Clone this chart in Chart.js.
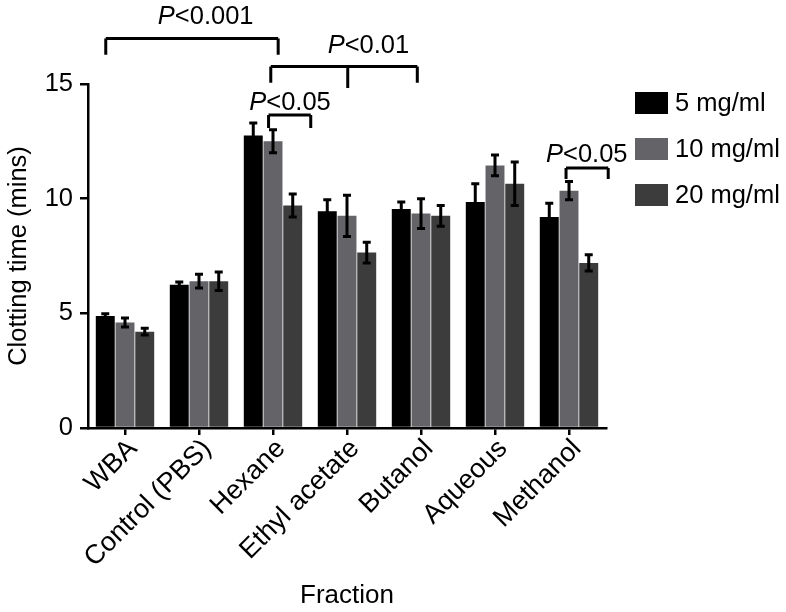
<!DOCTYPE html>
<html>
<head>
<meta charset="utf-8">
<script src="https://cdn.jsdelivr.net/npm/chart.js@4.4.1/dist/chart.umd.min.js"></script>
<style>
  html, body { margin: 0; padding: 0; background: #fff; }
  #wrap { width: 786px; height: 612px; position: relative; }
</style>
</head>
<body>
<div id="wrap"><canvas id="clotChart"></canvas></div>
<script>
const fractions = ['WBA', 'Control (PBS)', 'Hexane', 'Ethyl acetate', 'Butanol', 'Aqueous', 'Methanol'];
const seriesNames = ['5 mg/ml', '10 mg/ml', '20 mg/ml'];
const seriesColors = ['#000000', '#646468', '#3c3c3c'];

const mean5 = [4.88, 6.25, 12.75, 9.45, 9.55, 9.85, 9.2];
const mean10 = [4.6, 6.4, 12.5, 9.25, 9.35, 11.45, 10.35];
const mean20 = [4.2, 6.4, 9.7, 7.65, 9.25, 10.65, 7.2];
const err5 = [0.1, 0.12, 0.55, 0.5, 0.3, 0.8, 0.6];
const err10 = [0.2, 0.3, 0.5, 0.9, 0.65, 0.45, 0.4];
const err20 = [0.15, 0.4, 0.5, 0.45, 0.45, 0.95, 0.35];

const yTicks = [0, 5, 10, 15];

// significance brackets: x in category units (0 = WBA), y in mins
const bracketLabels = ['<0.001', '<0.01', '<0.05', '<0.05'];
const bracketLegs = [[-0.26, 2.07], [1.97, 3.01, 3.95], [1.94, 2.51], [5.96, 6.53]];
const bracketLegEnds = [[16.27, 16.27], [15.05, 14.83, 15.05], [13.08, 13.08], [10.86, 10.86]];
const bracketTops = [16.98, 15.76, 13.65, 11.34];
const bracketTextX = [1.09, 3.29, 2.23, 6.24];
const bracketTextY = [17.62, 16.35, 13.87, 11.6];

const means = [mean5, mean10, mean20];
const errs = [err5, err10, err20];

const FONT = '"Liberation Sans", Arial, sans-serif';

const errorBars = {
    id: 'errorBars',
    afterDatasetsDraw(chart) {
        const ctx = chart.ctx;
        const y = chart.scales.y;
        ctx.save();
        ctx.strokeStyle = '#000';
        ctx.lineWidth = 3;
        chart.data.datasets.forEach((ds, i) => {
            const meta = chart.getDatasetMeta(i);
            meta.data.forEach((bar, j) => {
                const v = ds.data[j];
                const e = errs[i][j];
                const top = y.getPixelForValue(v + e);
                const bot = y.getPixelForValue(v - e);
                ctx.beginPath();
                ctx.moveTo(bar.x, top);
                ctx.lineTo(bar.x, bot);
                ctx.moveTo(bar.x - 4, top);
                ctx.lineTo(bar.x + 4, top);
                ctx.moveTo(bar.x - 4, bot);
                ctx.lineTo(bar.x + 4, bot);
                ctx.stroke();
            });
        });
        ctx.restore();
    }
};

const brackets = {
    id: 'brackets',
    afterDraw(chart) {
        const ctx = chart.ctx;
        const xs = chart.scales.x;
        const y = chart.scales.y;
        const x0 = xs.getPixelForValue(0);
        const step = xs.getPixelForValue(1) - x0;
        const px = c => x0 + c * step;
        ctx.save();
        ctx.strokeStyle = '#000';
        ctx.lineWidth = 3;
        bracketLabels.forEach((lab, k) => {
            const legs = bracketLegs[k];
            const top = y.getPixelForValue(bracketTops[k]);
            ctx.beginPath();
            ctx.moveTo(px(legs[0]), top);
            ctx.lineTo(px(legs[legs.length - 1]), top);
            legs.forEach((c, m) => {
                ctx.moveTo(px(c), top);
                ctx.lineTo(px(c), y.getPixelForValue(bracketLegEnds[k][m]));
            });
            ctx.stroke();

            // italic P followed by the rest
            ctx.fillStyle = '#000';
            ctx.textBaseline = 'alphabetic';
            ctx.font = 'italic 25.5px ' + FONT;
            const wP = ctx.measureText('P').width;
            ctx.font = '25.5px ' + FONT;
            const wR = ctx.measureText(lab).width;
            const start = px(bracketTextX[k]) - (wP + wR) / 2;
            const base = y.getPixelForValue(bracketTextY[k]);
            ctx.font = 'italic 25.5px ' + FONT;
            ctx.fillText('P', start, base);
            ctx.font = '25.5px ' + FONT;
            ctx.fillText(lab, start + wP, base);
        });
        ctx.restore();
    }
};

const sideLegend = {
    id: 'sideLegend',
    afterDraw(chart) {
        const ctx = chart.ctx;
        ctx.save();
        ctx.font = '25.5px ' + FONT;
        ctx.textBaseline = 'middle';
        seriesNames.forEach((name, i) => {
            const cy = 103 + i * 46;
            ctx.fillStyle = seriesColors[i];
            ctx.fillRect(635, cy - 11, 33, 22);
            ctx.fillStyle = '#000';
            ctx.fillText(name, 675, cy + 1);
        });
        ctx.restore();
    }
};

const ctx = document.getElementById('clotChart').getContext('2d');
new Chart(ctx, {
    type: 'bar',
    data: {
        labels: fractions,
        datasets: seriesNames.map((name, i) => ({
            label: name,
            data: means[i],
            backgroundColor: seriesColors[i],
            borderWidth: 0,
            categoryPercentage: 0.8,
            barPercentage: 0.96
        }))
    },
    options: {
        responsive: true,
        maintainAspectRatio: false,
        animation: false,
        layout: { padding: { top: 84, right: 180, left: 4, bottom: 1 } },
        plugins: {
            legend: { display: false },
            tooltip: { enabled: false }
        },
        scales: {
            x: {
                offset: true,
                afterFit: scale => { scale.height = 183; },
                grid: {
                    offset: false,
                    drawOnChartArea: false,
                    drawTicks: true,
                    tickLength: 7,
                    color: '#000',
                    lineWidth: 2.5
                },
                border: { color: '#000', width: 2.5 },
                ticks: {
                    color: '#000',
                    font: { family: FONT, size: 27 },
                    minRotation: 45,
                    maxRotation: 45,
                    padding: -2,
                    labelOffset: 8
                },
                title: {
                    display: true,
                    text: 'Fraction',
                    color: '#000',
                    font: { family: FONT, size: 26 },
                    padding: { top: 4, bottom: 0 }
                }
            },
            y: {
                min: 0,
                max: 15,
                afterFit: scale => { scale.width = 84; },
                afterBuildTicks: scale => { scale.ticks = yTicks.map(v => ({ value: v })); },
                grid: {
                    drawOnChartArea: false,
                    drawTicks: true,
                    tickLength: 8,
                    color: '#000',
                    lineWidth: 2.5
                },
                border: { color: '#000', width: 2.5 },
                ticks: {
                    color: '#000',
                    font: { family: FONT, size: 25.5 },
                    padding: 7
                },
                title: {
                    display: true,
                    text: 'Clotting time (mins)',
                    color: '#000',
                    font: { family: FONT, size: 25.5 },
                    padding: { top: 0, bottom: 8 }
                }
            }
        }
    },
    plugins: [errorBars, brackets, sideLegend]
});
</script>
</body>
</html>
